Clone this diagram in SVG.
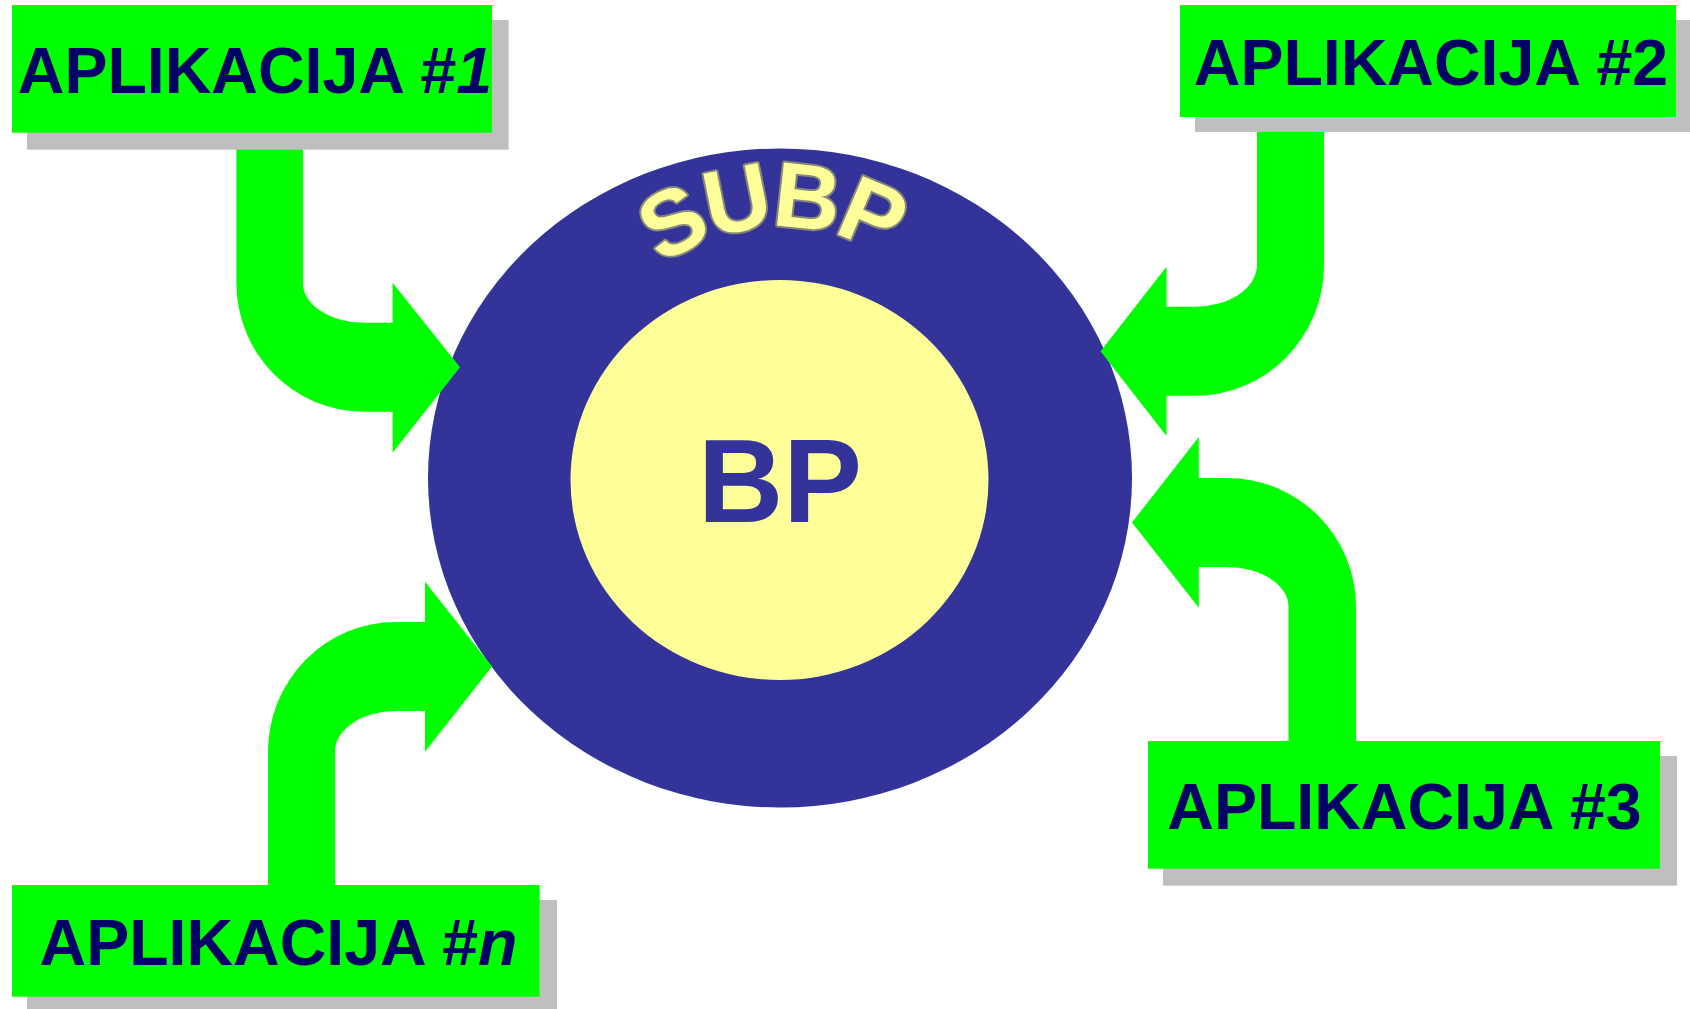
<svg xmlns="http://www.w3.org/2000/svg" width="1690" height="1009" viewBox="0 0 1690 1009">
<style>
.shadow{fill:#bfbfbf}
.box{fill:#00ff00}
.lbl{font-family:"Liberation Sans",Arial,Helvetica,sans-serif;font-weight:bold;font-size:64.5px;fill:#000066;text-anchor:middle}
.arrow{fill:#00ff00}
.it{font-style:italic}
</style>
<defs>
<path id="subpArc" d="M580,427 A200,200 0 0 1 980,427"/>
</defs>
<rect width="1690" height="1009" fill="#ffffff"/>

<g id="database">
<ellipse cx="780" cy="478" rx="352" ry="329.5" fill="#333399"/>
<ellipse cx="779.5" cy="480" rx="209" ry="200" fill="#ffff99"/>
<text font-family="Liberation Sans,Arial,Helvetica,sans-serif" font-weight="bold" font-size="92" fill="#ffff99" stroke="#85857a" stroke-width="4" stroke-linejoin="round" paint-order="stroke" letter-spacing="-5"><textPath href="#subpArc" startOffset="305" text-anchor="middle">SUBP</textPath></text>
<text x="780" y="521.7" font-family="Liberation Sans,Arial,Helvetica,sans-serif" font-weight="bold" font-size="118" fill="#333399" text-anchor="middle">BP</text>
</g>

<g id="connectors">
<path class="arrow" d="M236.4,130 L302.9,130 L302.9,283 A61,39.7 0 0 0 364,322.7 L392.6,322.7 L392.6,282.7 L460,367.2 L392.6,452.7 L392.6,411.7 L364,411.7 A127.6,128.7 0 0 1 236.4,283 Z"/>
<path class="arrow" d="M1324,115 L1324,265 A129,130.7 0 0 1 1195,395.7 L1166.5,395.7 L1166.5,436 L1100.5,351.2 L1166.5,266.7 L1166.5,306.7 L1195,306.7 A62,41.7 0 0 0 1257,265 L1257,115 Z"/>
<path class="arrow" d="M1132,522.5 L1198.8,437 L1198.8,478 L1227,478 A129,128.7 0 0 1 1356,606.7 L1356,750 L1288.5,750 L1288.5,606.7 A61.5,39.7 0 0 0 1227,567 L1198.8,567 L1198.8,607.7 Z"/>
<path class="arrow" d="M492,666.5 L425,581.7 L425,622 L396,622 A128,129.7 0 0 0 268,751.7 L268,895 L335,895 L335,751.7 A61,40.7 0 0 1 396,711 L425,711 L425,751.7 Z"/>
</g>

<g id="app1">
<rect class="shadow" x="27" y="20" width="481.6" height="129.7"/>
<rect class="box" x="12" y="5" width="480" height="127.7"/>
<text class="lbl" x="255" y="93">APLIKACIJA #<tspan class="it">1</tspan></text>
</g>

<g id="app2">
<rect class="shadow" x="1195" y="20" width="496" height="112"/>
<rect class="box" x="1180" y="5" width="496" height="112"/>
<text class="lbl" x="1431" y="85">APLIKACIJA #2</text>
</g>

<g id="app3">
<rect class="shadow" x="1163" y="756" width="514" height="129.7"/>
<rect class="box" x="1148" y="741" width="512" height="127.7"/>
<text class="lbl" x="1404.5" y="829">APLIKACIJA #3</text>
</g>

<g id="appn">
<rect class="shadow" x="27" y="900" width="530" height="112"/>
<rect class="box" x="12" y="885" width="527.6" height="111.7"/>
<text class="lbl" x="278.5" y="965">APLIKACIJA #<tspan class="it">n</tspan></text>
</g>
</svg>
